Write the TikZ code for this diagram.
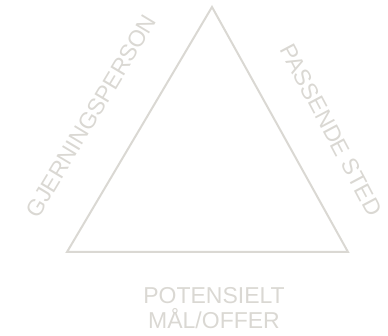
\documentclass[tikz,border=0pt]{standalone}
\usepackage{fontspec}
\setmainfont{Liberation Sans}
\definecolor{lightgrey}{RGB}{218,216,211}
\begin{document}
\begin{tikzpicture}[x=1pt, y=1pt,
    every node/.style={text=lightgrey, font=\fontsize{23}{25.5}\selectfont},
    side/.style={draw=lightgrey, line width=2pt, line join=miter}]
  \useasboundingbox (0,0) rectangle (388,336);
  \coordinate (L) at (67,84);
  \coordinate (R) at (348,84);
  \coordinate (T) at (212,329);
  \draw[side] (L) -- (T) -- (R) -- cycle;
  \node[rotate=59] (offender) at (91,220) {GJERNINGSPERSON};
  \node[rotate=-62] (place) at (331,206) {PASSENDE STED};
  \node[align=center] (target) at (214,28) {POTENSIELT\\MÅL/OFFER};
\end{tikzpicture}
\end{document}
